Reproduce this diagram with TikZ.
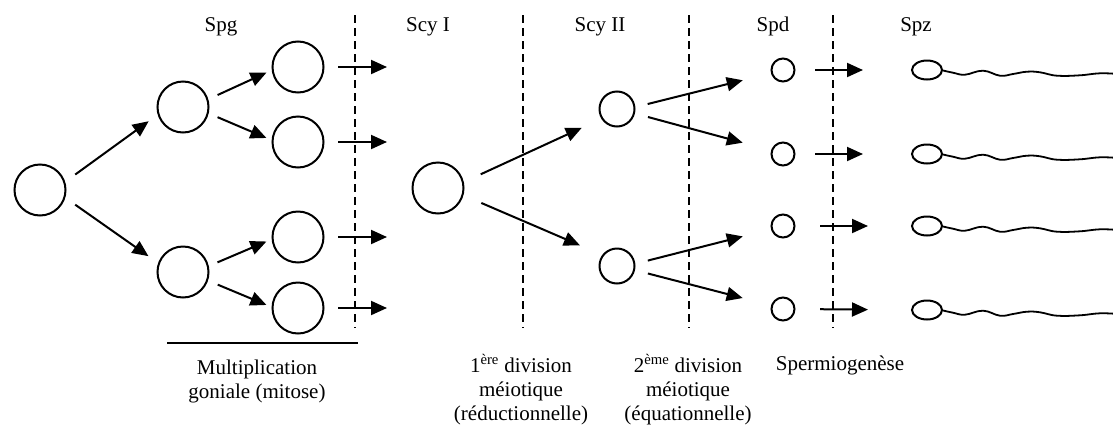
\documentclass[tikz,border=0pt]{standalone}
\usepackage{fontspec}
\setmainfont{Liberation Serif}
\usetikzlibrary{arrows.meta,shapes.geometric}
\begin{document}
\begin{tikzpicture}[x=1pt,y=-1pt,
  every node/.style={font=\fontsize{21}{24}\selectfont},
  cell/.style={circle,draw,line width=2pt,minimum size=51pt,inner sep=0pt},
  mid/.style={cell,minimum size=35pt},
  spd/.style={cell,minimum size=23pt},
  head/.style={ellipse,draw,line width=2pt,minimum width=30pt,minimum height=19pt,inner sep=0pt},
  arr/.style={line width=2pt,-{Triangle[length=16pt,width=14pt]}},
  sep/.style={line width=1.5pt,dash pattern=on 8pt off 5pt},
  lbl/.style={align=center,anchor=base},
  tail/.style={line width=1.8pt}]
\useasboundingbox (0,0) rectangle (1113,426);
% stage labels
\node[lbl] (tspg) at (221,31.5) {Spg};
\node[lbl] (tscy1) at (428,31.5) {Scy I};
\node[lbl] (tscy2) at (600,31.5) {Scy II};
\node[lbl] (tspd) at (773,31.5) {Spd};
\node[lbl] (tspz) at (916,31.5) {Spz};
% separators
\draw[sep] (355,15) -- (355,328);
\draw[sep] (523,15) -- (523,328);
\draw[sep] (689,15) -- (689,328);
\draw[sep] (833,15) -- (833,328);
% cells
\node[cell] (c0) at (40,190) {};
\node[cell] (A) at (183,107) {};
\node[cell] (B) at (183,272) {};
\node[cell] (A1) at (298,67) {};
\node[cell] (A2) at (298,142) {};
\node[cell] (B1) at (298,237) {};
\node[cell] (B2) at (298,308) {};
\node[cell] (S1) at (438,188) {};
\node[mid] (S2a) at (617,109) {};
\node[mid] (S2b) at (617,266) {};
\node[spd] (D1) at (783,70) {};
\node[spd] (D2) at (783,154) {};
\node[spd] (D3) at (783,226) {};
\node[spd] (D4) at (783,309) {};
\node[head] (Z1) at (927,70) {};
\node[head] (Z2) at (927,154) {};
\node[head] (Z3) at (927,226) {};
\node[head] (Z4) at (927,310) {};
% tails
\foreach \z in {Z1,Z2,Z3,Z4}{
  \draw[tail,shift={(\z.east)}] plot[smooth,tension=0.7] coordinates
    {(0,0.5) (10,2.7) (22,4.7) (40,0.7) (57,5.7) (70,4) (84,1.7) (97,2.3) (114,5.7) (137,5.3) (157,3.3) (175,4)};
}
% mitosis arrows
\draw[arr,shorten <=12.4pt,shorten >=11.1pt] (c0.18) -- (A.197);
\draw[arr,shorten <=12.1pt,shorten >=11.8pt] (c0.343) -- (B.160);
\draw[arr,shorten <=10.2pt,shorten >=5.7pt] (A.17) -- (A1.187);
\draw[arr,shorten <=9.6pt,shorten >=5.6pt] (A.346) -- (A2.176);
\draw[arr,shorten <=9.4pt,shorten >=5.6pt] (B.13) -- (B1.185);
\draw[arr,shorten <=10.5pt,shorten >=5.5pt] (B.341) -- (B2.178);
% free arrows out of Spg
\coordinate (f1) at (387,67);
\coordinate (f2) at (387,142);
\coordinate (f3) at (387,237);
\coordinate (f4) at (387,308);
\draw[arr,shorten <=13.5pt] (A1.east) -- (f1);
\draw[arr,shorten <=13.5pt] (A2.east) -- (f2);
\draw[arr,shorten <=13.5pt] (B1.east) -- (f3);
\draw[arr,shorten <=13.5pt] (B2.east) -- (f4);
% meiosis arrows
\draw[arr,shorten <=18.6pt,shorten >=21.5pt] (S1.13) -- (S2a.212);
\draw[arr,shorten <=19.4pt,shorten >=24.3pt] (S1.344) -- (S2b.143);
\draw[arr,shorten <=12.6pt,shorten >=29pt] (S2a.6) -- (D1.195);
\draw[arr,shorten <=13.5pt,shorten >=29.3pt] (S2a.346) -- (D2.163);
\draw[arr,shorten <=12.8pt,shorten >=29pt] (S2b.7) -- (D3.195);
\draw[arr,shorten <=13.3pt,shorten >=29.3pt] (S2b.347) -- (D4.163);
% spermiogenesis arrows
\draw[arr,shorten <=19.5pt,shorten >=48pt] (D1.east) -- (Z1.west);
\draw[arr,shorten <=19.5pt,shorten >=48pt] (D2.east) -- (Z2.west);
\draw[arr,shorten <=24.5pt,shorten >=43pt] (D3.east) -- (Z3.west);
\draw[arr,shorten <=24.5pt,shorten >=43pt] (D4.east) -- (Z4.west);
% bottom
\draw[line width=2pt] (167,343) -- (358,343);
\node[lbl] (tmul) at (257,398) {Multiplication\\goniale (mitose)};
\node[lbl] (tm1) at (521,420) {1\textsuperscript{ère} division\\méiotique\\(réductionnelle)};
\node[lbl] (tm2) at (688,420) {2\textsuperscript{ème} division\\méiotique\\(équationnelle)};
\node[lbl] (tspm) at (840,370) {Spermiogenèse};
\end{tikzpicture}
\end{document}
